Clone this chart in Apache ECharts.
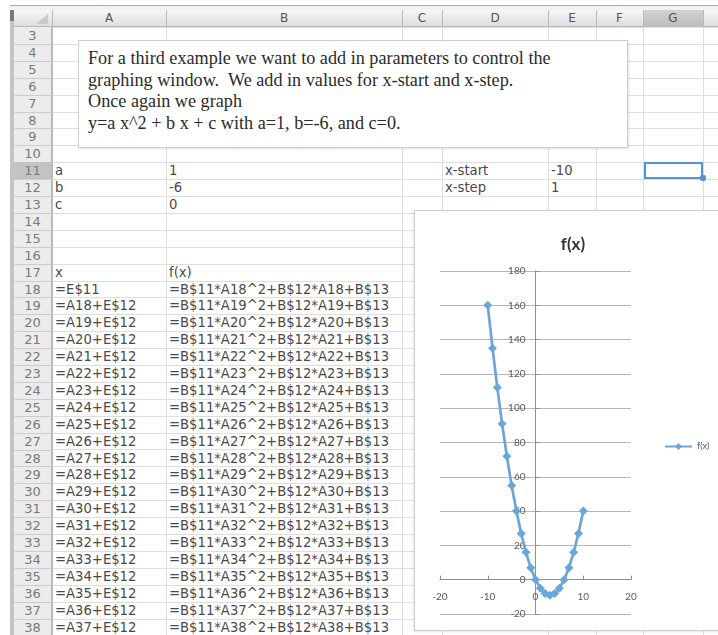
<!DOCTYPE html>
<html>
<head>
<meta charset="utf-8">
<title>f(x) worksheet</title>
<script src="https://cdn.jsdelivr.net/npm/echarts@6/dist/echarts.min.js"></script>
<style>
  html, body { margin: 0; padding: 0; width: 718px; height: 635px; overflow: hidden; background: #fff; }
  #sheet { position: absolute; left: 0; top: 0; width: 718px; height: 635px; overflow: hidden; }
  .abs { position: absolute; }
  .cell { position: absolute; font-family: "DejaVu Sans", sans-serif; font-size: 13.2px; color: #4a4a4a; white-space: nowrap; line-height: 17px; }
  .rownum { position: absolute; font-family: "DejaVu Sans", sans-serif; font-size: 13px; color: #7a7a7a; text-align: center; line-height: 17px; }
  .colhead { position: absolute; font-family: "DejaVu Sans", sans-serif; font-size: 12px; color: #555; text-align: center; line-height: 17px; }
  #note { position: absolute; left: 78px; top: 40px; width: 548px; height: 106px; background: #fff; border: 1px solid #cfcfcf; box-shadow: 1px 1px 2px rgba(0,0,0,0.12); }
  #note div { position: absolute; left: 9px; font-family: "Liberation Serif", serif; font-size: 18.2px; color: #2b2b2b; white-space: pre; line-height: 22px; }
  #chartFrame { position: absolute; left: 414px; top: 210px; width: 330px; height: 419px; background: #fff; border: 1px solid #cdcdcd; box-shadow: -1px 1px 2px rgba(0,0,0,0.10); }
  #chart { position: absolute; left: 415px; top: 211px; width: 310px; height: 418px; }
</style>
</head>
<body>
<div id="sheet"></div>
<div id="chartFrame"></div>
<div id="chart"></div>
<script>
// ---- worksheet content ----
const columnLetters = ['A', 'B', 'C', 'D', 'E', 'F', 'G'];
const firstRow = 3;
const lastRow = 38;

const paramNames = ['a', 'b', 'c'];
const paramValues = ['1', '-6', '0'];
const windowNames = ['x-start', 'x-step'];
const windowValues = ['-10', '1'];
const headerX = 'x';
const headerF = 'f(x)';

const xFormulas = [
  '=E$11', '=A18+E$12', '=A19+E$12', '=A20+E$12', '=A21+E$12', '=A22+E$12', '=A23+E$12',
  '=A24+E$12', '=A25+E$12', '=A26+E$12', '=A27+E$12', '=A28+E$12', '=A29+E$12', '=A30+E$12',
  '=A31+E$12', '=A32+E$12', '=A33+E$12', '=A34+E$12', '=A35+E$12', '=A36+E$12', '=A37+E$12'
];
const fFormulas = [
  '=B$11*A18^2+B$12*A18+B$13', '=B$11*A19^2+B$12*A19+B$13', '=B$11*A20^2+B$12*A20+B$13',
  '=B$11*A21^2+B$12*A21+B$13', '=B$11*A22^2+B$12*A22+B$13', '=B$11*A23^2+B$12*A23+B$13',
  '=B$11*A24^2+B$12*A24+B$13', '=B$11*A25^2+B$12*A25+B$13', '=B$11*A26^2+B$12*A26+B$13',
  '=B$11*A27^2+B$12*A27+B$13', '=B$11*A28^2+B$12*A28+B$13', '=B$11*A29^2+B$12*A29+B$13',
  '=B$11*A30^2+B$12*A30+B$13', '=B$11*A31^2+B$12*A31+B$13', '=B$11*A32^2+B$12*A32+B$13',
  '=B$11*A33^2+B$12*A33+B$13', '=B$11*A34^2+B$12*A34+B$13', '=B$11*A35^2+B$12*A35+B$13',
  '=B$11*A36^2+B$12*A36+B$13', '=B$11*A37^2+B$12*A37+B$13', '=B$11*A38^2+B$12*A38+B$13'
];

const noteLines = [
  'For a third example we want to add in parameters to control the',
  'graphing window.  We add in values for x-start and x-step.',
  'Once again we graph',
  'y=a x^2 + b x + c with a=1, b=-6, and c=0.'
];

// ---- chart data ----
const xValues = [-10, -9, -8, -7, -6, -5, -4, -3, -2, -1, 0, 1, 2, 3, 4, 5, 6, 7, 8, 9, 10];
const fValues = [160, 135, 112, 91, 72, 55, 40, 27, 16, 7, 0, -5, -8, -9, -8, -5, 0, 7, 16, 27, 40];
const seriesName = 'f(x)';
const xMin = -20, xMax = 20, xStep = 10;
const yMin = -20, yMax = 180, yStep = 20;

// ---- worksheet layout ----
const colEdges = [52, 166, 402, 442, 548, 596, 643, 703, 780];
const rowHeadLeft = 14;
const headTop = 10;
const gridTop = 27;
const rowH = 16.9;
const selectedRow = 11;
const selectedCol = 'G';

const sheet = document.getElementById('sheet');
function box(x, y, w, h, style) {
  const d = document.createElement('div');
  d.className = 'abs';
  d.style.left = x + 'px'; d.style.top = y + 'px';
  d.style.width = w + 'px'; d.style.height = h + 'px';
  Object.assign(d.style, style || {});
  sheet.appendChild(d);
  return d;
}
function text(cls, x, y, w, str) {
  const d = document.createElement('div');
  d.className = cls;
  d.style.left = x + 'px'; d.style.top = y + 'px';
  if (w) d.style.width = w + 'px';
  d.textContent = str;
  sheet.appendChild(d);
  return d;
}
const rowTop = r => gridTop + (r - firstRow) * rowH;

// window frame
box(10, 5, 708, 1, { background: '#a9a9a9' });
box(10, 6, 708, 4, { background: '#f2f2f2' });
box(10, 10, 4, 625, { background: '#c4c4c4' });
box(10, 10, 4, 11, { background: '#7b7b7b' });

// column header band
box(rowHeadLeft, headTop, 718 - rowHeadLeft, gridTop - headTop, { background: 'linear-gradient(#f7f7f7, #dedede)', borderBottom: '1px solid #b9b9b9', boxSizing: 'border-box' });
columnLetters.forEach((c, i) => {
  const x0 = colEdges[i], x1 = colEdges[i + 1];
  if (c === selectedCol) box(x0, headTop, x1 - x0, gridTop - headTop, { background: 'linear-gradient(#d2d2d2, #bcbcbc)' });
  text('colhead', x0, headTop, x1 - x0, c);
});
// corner cell triangle
box(36, 14, 0, 0, { borderLeft: '12px solid transparent', borderBottom: '10px solid #c9c9c9' });

// row header column
box(rowHeadLeft, gridTop, colEdges[0] - rowHeadLeft, 635 - gridTop, { background: '#ececec', borderRight: '1px solid #b9b9b9', boxSizing: 'border-box' });
for (let r = firstRow; r <= lastRow; r++) {
  const y = rowTop(r);
  if (r === selectedRow) box(rowHeadLeft, y, colEdges[0] - rowHeadLeft - 1, rowH, { background: '#c3c3c3' });
  box(rowHeadLeft, y + rowH, colEdges[0] - rowHeadLeft, 1, { background: '#cdcdcd' });
  text('rownum', rowHeadLeft + 1, y, colEdges[0] - rowHeadLeft - 3, String(r));
}

// grid lines
for (let r = firstRow; r <= lastRow + 1; r++) {
  box(colEdges[0], Math.round(rowTop(r)), 718 - colEdges[0], 1, { background: '#dedede' });
}
colEdges.forEach((x, i) => {
  box(x, headTop, 1, 635 - headTop, { background: i === 0 ? '#b9b9b9' : '#dedede' });
  if (i > 0) box(x, headTop, 1, gridTop - headTop, { background: '#b9b9b9' });
});

// cell values
const cellPad = 3;
const colX = c => colEdges[columnLetters.indexOf(c)] + cellPad;
paramNames.forEach((n, i) => {
  text('cell', colX('A'), rowTop(11 + i), 0, n);
  text('cell', colX('B'), rowTop(11 + i), 0, paramValues[i]);
});
windowNames.forEach((n, i) => {
  text('cell', colX('D'), rowTop(11 + i), 0, n);
  text('cell', colX('E'), rowTop(11 + i), 0, windowValues[i]);
});
text('cell', colX('A'), rowTop(17), 0, headerX);
text('cell', colX('B'), rowTop(17), 0, headerF);
xFormulas.forEach((s, i) => text('cell', colX('A'), rowTop(18 + i), 0, s));
fFormulas.forEach((s, i) => text('cell', colX('B'), rowTop(18 + i), 0, s));

// active cell
const gi = columnLetters.indexOf(selectedCol);
box(colEdges[gi] + 1, rowTop(selectedRow), colEdges[gi + 1] - colEdges[gi] - 1, rowH, { border: '2px solid #5a8fdc', boxSizing: 'border-box' });
box(colEdges[gi + 1] - 3, rowTop(selectedRow) + rowH - 4, 6, 6, { background: '#5a8fdc', borderRadius: '2px' });

// text box
const note = document.createElement('div');
note.id = 'note';
noteLines.forEach((s, i) => {
  const d = document.createElement('div');
  d.style.top = (6 + i * 21.6) + 'px';
  d.textContent = s;
  note.appendChild(d);
});
sheet.appendChild(note);

// ---- chart ----
const lineColor = '#6aa6da';
const axisColor = '#8f8f8f';
const plot = { left: 25, top: 60, width: 191, height: 343 };
// axes cross at the origin: shift each axis from its grid edge to the zero of the other axis
const yAxisShift = -plot.width * (0 - xMin) / (xMax - xMin);
const xAxisShift = -plot.height * (0 - yMin) / (yMax - yMin);

const chart = echarts.init(document.getElementById('chart'), null, { renderer: 'canvas' });
chart.setOption({
  animation: false,
  title: {
    text: seriesName,
    left: 153, top: 20, textAlign: 'center',
    textStyle: { fontFamily: 'Lato', fontWeight: 'bold', fontSize: 17, color: '#333' }
  },
  legend: {
    data: [seriesName],
    left: 244, top: 226,
    itemWidth: 27, itemHeight: 9,
    textStyle: { fontFamily: 'Lato', fontSize: 9, color: '#595959' }
  },
  grid: Object.assign({ containLabel: false }, plot),
  xAxis: {
    type: 'value', min: xMin, max: xMax, interval: xStep,
    position: 'bottom', offset: xAxisShift,
    axisLine: { show: true, onZero: false, lineStyle: { color: axisColor, width: 1 } },
    axisTick: { show: true, inside: true, length: 4, lineStyle: { color: axisColor } },
    splitLine: { show: false },
    axisLabel: { fontFamily: 'Lato', fontSize: 10, color: '#595959', margin: 12 }
  },
  yAxis: {
    type: 'value', min: yMin, max: yMax, interval: yStep,
    position: 'left', offset: yAxisShift,
    axisLine: { show: true, onZero: false, lineStyle: { color: axisColor, width: 1 } },
    axisTick: { show: true, inside: true, length: 4, lineStyle: { color: axisColor } },
    splitLine: { show: true, lineStyle: { color: '#b5b5b5', width: 1 } },
    axisLabel: { fontFamily: 'Lato', fontSize: 10, color: '#595959', margin: 10 }
  },
  series: [{
    name: seriesName,
    type: 'line',
    data: xValues.map((x, i) => [x, fValues[i]]),
    symbol: 'diamond',
    symbolSize: 9,
    lineStyle: { color: lineColor, width: 2.7 },
    itemStyle: { color: lineColor }
  }]
});
</script>
</body>
</html>
